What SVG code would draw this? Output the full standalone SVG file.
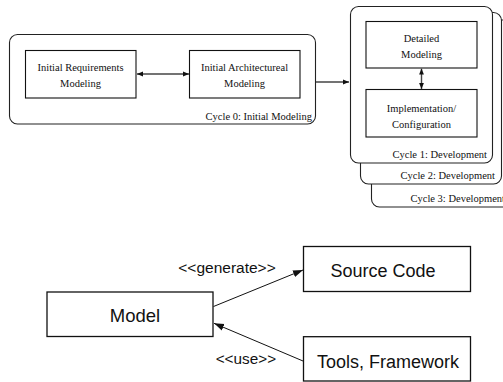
<svg xmlns="http://www.w3.org/2000/svg" width="503" height="382" viewBox="0 0 503 382">
  <style>
    .cycle { fill: #fff; stroke: #222; stroke-width: 1.1; }
    .box { fill: #fff; stroke: #111; stroke-width: 1.1; }
    .sbox { fill: #fff; stroke: #111; stroke-width: 1.3; }
    .serif { font-family: "Liberation Serif", "Times New Roman", serif; font-size: 10.5px; fill: #111; }
    .sans { font-family: "Liberation Sans", Arial, sans-serif; fill: #111; }
    .mid { text-anchor: middle; }
    .end { text-anchor: end; }
    .link { fill: none; stroke: #444; stroke-width: 1.4; }
    .assoc { fill: none; stroke: #111; stroke-width: 1; }
  </style>
  <defs>
    <marker id="tip" viewBox="0 0 6 6" refX="6" refY="3" markerWidth="6" markerHeight="6" markerUnits="userSpaceOnUse" orient="auto-start-reverse">
      <path d="M0,0.6 L6,3 L0,5.4 Z" fill="#111"/>
    </marker>
    <marker id="head" viewBox="0 0 10 8" refX="10" refY="4" markerWidth="10" markerHeight="8" markerUnits="userSpaceOnUse" orient="auto">
      <path d="M0,0.5 L10,4 L0,7.5 Z" fill="#111"/>
    </marker>
  </defs>

  <!-- development cycles, stacked back to front -->
  <g id="cycle3">
    <rect class="cycle" x="371.5" y="20" width="150" height="187" rx="8"/>
    <text class="serif" x="410.5" y="201.5">Cycle 3: Development</text>
  </g>
  <g id="cycle2">
    <rect class="cycle" x="360.5" y="12.5" width="141" height="171.5" rx="8"/>
    <text class="serif end" x="495" y="179">Cycle 2: Development</text>
  </g>
  <g id="cycle1">
    <rect class="cycle" x="350.5" y="6.5" width="142" height="156.5" rx="8"/>
    <text class="serif end" x="487" y="158">Cycle 1: Development</text>
  </g>

  <!-- initial modeling cycle -->
  <g id="cycle0">
    <rect class="cycle" x="9.5" y="34.5" width="306" height="89.5" rx="8"/>
    <text class="serif end" x="312" y="119.5">Cycle 0: Initial Modeling</text>
  </g>

  <g id="req">
    <rect class="box" x="25.5" y="50.5" width="110.5" height="47.5"/>
    <text class="serif mid" x="80.5" y="70.7">Initial Requirements</text>
    <text class="serif mid" x="80.5" y="86.7">Modeling</text>
  </g>
  <g id="arch">
    <rect class="box" x="189.5" y="50.5" width="110.5" height="47.5"/>
    <text class="serif mid" x="244.5" y="70.7">Initial Architectureal</text>
    <text class="serif mid" x="244.5" y="86.7">Modeling</text>
  </g>
  <g id="detailed">
    <rect class="box" x="366" y="21.5" width="111" height="46.5"/>
    <text class="serif mid" x="421.5" y="41.5">Detailed</text>
    <text class="serif mid" x="421.5" y="57.5">Modeling</text>
  </g>
  <g id="impl">
    <rect class="box" x="366" y="89.5" width="111" height="47.5"/>
    <text class="serif mid" x="421.5" y="111.5">Implementation/</text>
    <text class="serif mid" x="421.5" y="127.5">Configuration</text>
  </g>

  <!-- model-driven view -->
  <g id="model">
    <rect class="sbox" x="47" y="292" width="166" height="44.5"/>
    <text class="sans mid" x="135" y="321.7" font-size="18.5">Model</text>
  </g>
  <g id="source">
    <rect class="sbox" x="303.5" y="246.5" width="167" height="45"/>
    <text class="sans mid" x="383" y="276.7" font-size="18">Source Code</text>
  </g>
  <g id="tools">
    <rect class="sbox" x="303.5" y="336.7" width="167" height="44.3"/>
    <text class="sans mid" x="388" y="368.3" font-size="18">Tools, Framework</text>
  </g>

  <g id="connectors">
    <line class="link" x1="137" y1="74" x2="189" y2="74" marker-start="url(#tip)" marker-end="url(#tip)"/>
    <line class="link" x1="316" y1="82" x2="349" y2="82" marker-end="url(#tip)"/>
    <line class="link" x1="421.5" y1="68.5" x2="421.5" y2="89" marker-start="url(#tip)" marker-end="url(#tip)"/>
    <line class="assoc" x1="213.5" y1="306.5" x2="303" y2="270" marker-end="url(#head)"/>
    <line class="assoc" x1="303" y1="361" x2="214" y2="323.3" marker-end="url(#head)"/>
    <text class="sans" x="178.3" y="273.3" font-size="15.5">&lt;&lt;generate&gt;&gt;</text>
    <text class="sans" x="215.7" y="364" font-size="15.3">&lt;&lt;use&gt;&gt;</text>
  </g>
</svg>
